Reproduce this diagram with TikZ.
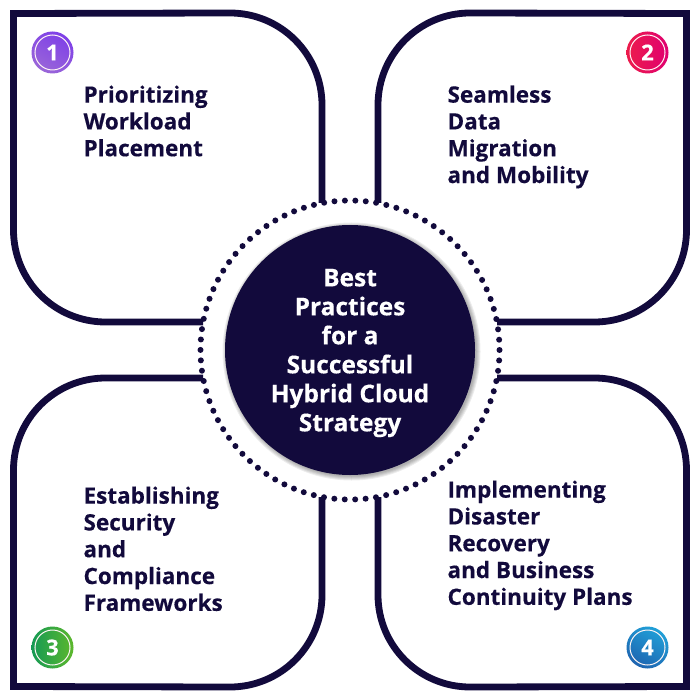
\documentclass[tikz,border=0pt]{standalone}
\usepackage{fontspec}
\setmainfont[BoldFeatures={FakeBold=0.35}]{Open Sans}
\definecolor{navy}{HTML}{120A3C}
\definecolor{violetA}{HTML}{7E3FE8}
\definecolor{violetB}{HTML}{9A66D8}
\definecolor{roseA}{HTML}{EC1C4C}
\definecolor{roseB}{HTML}{E00070}
\definecolor{greenA}{HTML}{159A54}
\definecolor{greenB}{HTML}{5DB82C}
\definecolor{blueA}{HTML}{20A0D8}
\definecolor{blueB}{HTML}{1F64B0}
\tikzset{
    petal/.style={line width=6.8pt, draw=navy, line cap=butt, line join=miter},
    tasktext/.style={anchor=north west, align=left, text=navy, font=\fontsize{22.5}{26.8}\selectfont\bfseries},
    badge/.style={circle, minimum size=35pt, inner sep=0pt, text=white, draw=white!85!pink, line width=1pt, font=\fontsize{22}{22}\selectfont\bfseries}
}
\begin{document}
\begin{tikzpicture}[x=1pt,y=-1pt,cap=round]
    \useasboundingbox (0,0) rectangle (700,700);
    \fill[white] (0,0) rectangle (700,700);

    % the four panels
    \draw[petal] (322,203) -- (322,105) arc[start angle=0, end angle=-90, radius=92] -- (13.5,13.5) -- (13.5,230) arc[start angle=180, end angle=90, radius=92] -- (203,322);
    \draw[petal] (378,203) -- (378,105) arc[start angle=180, end angle=270, radius=92] -- (686.5,13.5) -- (686.5,230) arc[start angle=0, end angle=90, radius=92] -- (497,322);
    \draw[petal] (322,497) -- (322,595) arc[start angle=0, end angle=90, radius=92] -- (13.5,686.5) -- (13.5,470) arc[start angle=180, end angle=270, radius=92] -- (203,378);
    \draw[petal] (378,497) -- (378,595) arc[start angle=180, end angle=90, radius=92] -- (686.5,686.5) -- (686.5,470) arc[start angle=0, end angle=-90, radius=92] -- (497,378);

    % the middle
    \draw[navy, line width=6pt, dash pattern=on 0pt off 10.44pt, line cap=round] (350,350) circle (149.5);
    \foreach \w in {5,4,3,2,1}
        \fill[black, opacity=0.07] (351.5,351.5) circle (124+\w);
    \node[circle, fill=navy, minimum size=250pt, inner sep=0pt] (hub) at (350,350) {};
    \node[text=white, align=center, font=\fontsize{24.5}{29}\selectfont\bfseries] (hubtext) at (350,353) {Best\\Practices\\for a\\Successful\\Hybrid Cloud\\Strategy};

    % texts
    \node[tasktext] (first) at (80,82) {Prioritizing\\Workload\\Placement};
    \node[tasktext] (second) at (444,82) {Seamless\\Data\\Migration\\and Mobility};
    \node[tasktext] (third) at (80,483) {Establishing\\Security\\and\\Compliance\\Frameworks};
    \node[tasktext] (fourth) at (444,477) {Implementing\\Disaster\\Recovery\\and Business\\Continuity Plans};

    % numbers
    \shade[left color=violetA, right color=violetB, shading angle=-30] (52.5,52.5) circle (21);
    \shade[left color=roseA, right color=roseB] (647.5,52.5) circle (21);
    \shade[left color=greenA, right color=greenB] (52.5,647.5) circle (21);
    \shade[left color=blueA, right color=blueB, shading angle=-30] (647.5,647.5) circle (21);
    \node[badge] (one) at (52.5,52.5) {1};
    \node[badge] (two) at (647.5,52.5) {2};
    \node[badge] (three) at (52.5,647.5) {3};
    \node[badge] (four) at (647.5,647.5) {4};
\end{tikzpicture}
\end{document}
